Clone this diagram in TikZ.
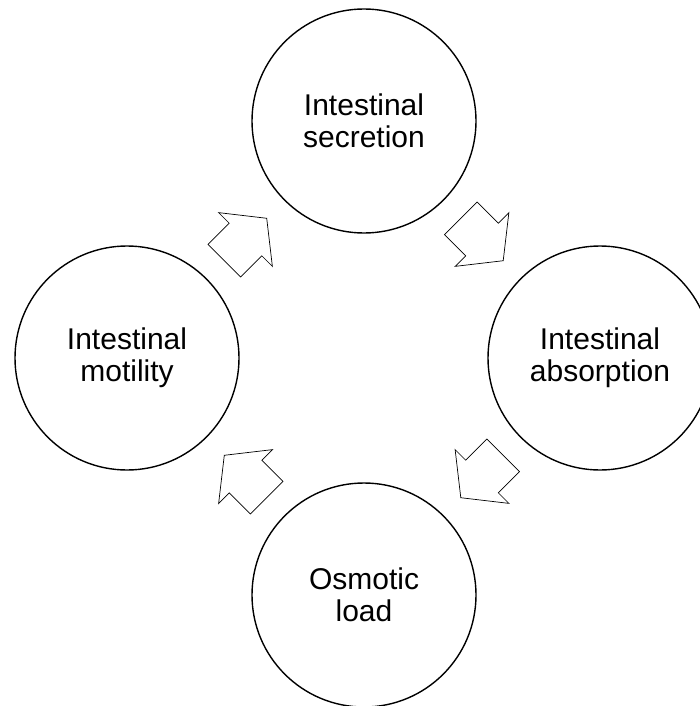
\documentclass[tikz,border=0pt]{standalone}
\usepackage{fontspec}
\setmainfont{Liberation Sans}
\usetikzlibrary{calc}
\begin{document}
\begin{tikzpicture}[x=1pt,y=-1pt,
  stage/.style={circle, draw, line width=1.4pt, minimum size=224pt, inner sep=0pt,
    align=center, font=\fontsize{30}{32}\selectfont},
  flow/.style={draw, line width=0.7pt, fill=white, line join=miter},
  pics/cyclearrow/.style={code={
    \draw[flow] (-30,-23) -- (0,-23) -- (0,-38) -- (30,0) -- (0,38) -- (0,23) -- (-30,23) -- cycle;
  }}]
\useasboundingbox (0,0) rectangle (700,706);

% the four stages of the cycle
\node[stage] (sec) at (364,121) {Intestinal\\secretion};
\node[stage] (abs) at (600,358) {Intestinal\\absorption};
\node[stage] (osm) at (364,595) {Osmotic\\load};
\node[stage] (mot) at (127,358) {Intestinal\\motility};

% block arrows halfway between neighbouring stages
\coordinate (a1) at ($(mot)!0.5!(sec)$);
\coordinate (a2) at ($(sec)!0.5!(abs)$);
\coordinate (a3) at ($(abs)!0.5!(osm)$);
\coordinate (a4) at ($(osm)!0.5!(mot)$);
\path (a1) pic[rotate=45]   {cyclearrow};
\path (a2) pic[rotate=-45]  {cyclearrow};
\path (a3) pic[rotate=-135] {cyclearrow};
\path (a4) pic[rotate=135]  {cyclearrow};
\end{tikzpicture}
\end{document}
